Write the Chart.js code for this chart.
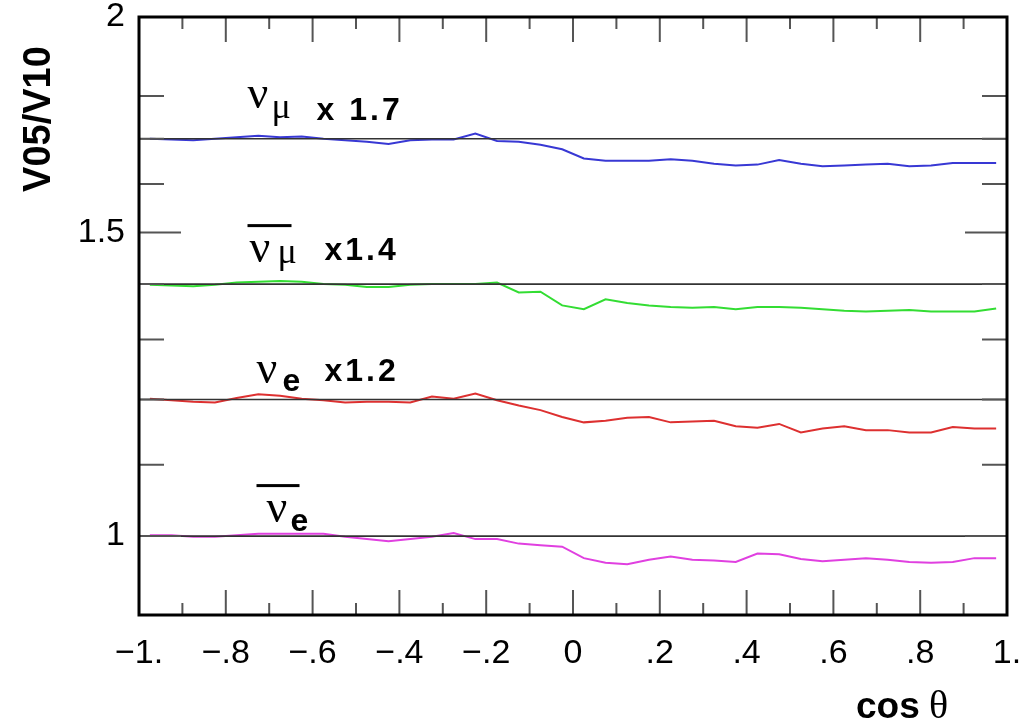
<!DOCTYPE html>
<html lang="en">
<head>
<meta charset="UTF-8">
<title>V05/V10 vs cos theta</title>
<script src="https://cdn.jsdelivr.net/npm/chart.js"></script>
<style>
    body { margin: 0; background: #fff; }
    #wrap { width: 1030px; height: 723px; }
</style>
</head>
<body>
<div id="wrap"><canvas id="ratioChart" width="1030" height="723"></canvas></div>
<script>
    // bin centres in cos(theta)
    const cosTheta = [-0.975, -0.925, -0.875, -0.825, -0.775, -0.725, -0.675, -0.625, -0.575, -0.525,
        -0.475, -0.425, -0.375, -0.325, -0.275, -0.225, -0.175, -0.125, -0.075, -0.025,
        0.025, 0.075, 0.125, 0.175, 0.225, 0.275, 0.325, 0.375, 0.425, 0.475,
        0.525, 0.575, 0.625, 0.675, 0.725, 0.775, 0.825, 0.875, 0.925, 0.975];

    // V05/V10 flux ratios (before the display offsets)
    const numuRatio = [1.000, 0.999, 0.998, 1.000, 1.002, 1.004, 1.002, 1.003, 1.000, 0.998,
        0.996, 0.993, 0.998, 0.999, 0.999, 1.007, 0.997, 0.996, 0.992, 0.986,
        0.974, 0.971, 0.971, 0.971, 0.973, 0.971, 0.967, 0.965, 0.966, 0.972,
        0.967, 0.964, 0.965, 0.966, 0.967, 0.964, 0.965, 0.968, 0.968, 0.968];
    const numubarRatio = [0.999, 0.998, 0.997, 0.999, 1.002, 1.003, 1.004, 1.003, 1.000, 0.999,
        0.996, 0.996, 0.999, 1.000, 1.000, 1.000, 1.002, 0.989, 0.990, 0.972,
        0.967, 0.980, 0.975, 0.972, 0.970, 0.969, 0.970, 0.967, 0.970, 0.970,
        0.969, 0.967, 0.965, 0.964, 0.965, 0.966, 0.964, 0.964, 0.964, 0.968];
    const nueRatio = [1.001, 0.999, 0.997, 0.996, 1.002, 1.007, 1.005, 1.001, 0.999, 0.996,
        0.997, 0.997, 0.996, 1.004, 1.001, 1.008, 0.999, 0.992, 0.986, 0.977,
        0.970, 0.972, 0.976, 0.977, 0.970, 0.971, 0.972, 0.965, 0.963, 0.968,
        0.957, 0.962, 0.965, 0.960, 0.960, 0.957, 0.957, 0.964, 0.962, 0.962];
    const nuebarRatio = [1.001, 1.001, 0.999, 0.999, 1.001, 1.003, 1.003, 1.003, 1.003, 0.999,
        0.996, 0.993, 0.996, 0.999, 1.004, 0.996, 0.996, 0.990, 0.988, 0.986,
        0.971, 0.965, 0.963, 0.969, 0.973, 0.969, 0.968, 0.966, 0.977, 0.976,
        0.970, 0.967, 0.969, 0.971, 0.969, 0.966, 0.965, 0.966, 0.971, 0.971];

    // each curve is multiplied by this factor for display
    const scaleFactors = [1.7, 1.4, 1.2, 1.0];

    const xTickValues = [-1, -0.8, -0.6, -0.4, -0.2, 0, 0.2, 0.4, 0.6, 0.8, 1];
    const xTickLabels = ['\u22121.', '\u2212.8', '\u2212.6', '\u2212.4', '\u2212.2', '0', '.2', '.4', '.6', '.8', '1.'];
    const yMajorTicks = [1, 1.5, 2];
    const yMinorTicks = [1.1, 1.2, 1.3, 1.4, 1.6, 1.7, 1.8];

    const ratios = [numuRatio, numubarRatio, nueRatio, nuebarRatio];
    const colors = ['#3838d4', '#33dd33', '#dd3030', '#e040e0'];

    function points(r, f) {
        return cosTheta.map((c, i) => ({ x: c, y: r[i] * f }));
    }

    const datasets = [];
    scaleFactors.forEach((f, k) => {
        datasets.push({
            data: [{ x: -1, y: f }, { x: 1, y: f }],
            borderColor: '#333', borderWidth: 1.6, pointRadius: 0, order: 0
        });
        datasets.push({
            data: points(ratios[k], f),
            borderColor: colors[k], borderWidth: 2, pointRadius: 0, order: 1
        });
    });

    function txt(ctx, s, x, y, font, spacing) {
        ctx.font = font;
        ctx.letterSpacing = spacing || '0px';
        ctx.fillText(s, x, y);
    }

    const decor = {
        id: 'decor',
        afterDraw(chart) {
            const { ctx, chartArea: a, scales: { x, y } } = chart;
            ctx.save();

            // inward tick marks on all four sides
            ctx.strokeStyle = '#555';
            ctx.lineWidth = 2;
            ctx.beginPath();
            xTickValues.forEach((v, i) => {
                const px = x.getPixelForValue(v);
                ctx.moveTo(px, a.bottom); ctx.lineTo(px, a.bottom - 25);
                ctx.moveTo(px, a.top); ctx.lineTo(px, a.top + 25);
                if (i < xTickValues.length - 1) {
                    const mx = x.getPixelForValue(v + 0.1);
                    ctx.moveTo(mx, a.bottom); ctx.lineTo(mx, a.bottom - 12);
                    ctx.moveTo(mx, a.top); ctx.lineTo(mx, a.top + 12);
                }
            });
            yMajorTicks.forEach(v => {
                const py = y.getPixelForValue(v);
                ctx.moveTo(a.left, py); ctx.lineTo(a.left + 42, py);
                ctx.moveTo(a.right, py); ctx.lineTo(a.right - 42, py);
            });
            yMinorTicks.forEach(v => {
                const py = y.getPixelForValue(v);
                ctx.moveTo(a.left, py); ctx.lineTo(a.left + 25, py);
                ctx.moveTo(a.right, py); ctx.lineTo(a.right - 25, py);
            });
            ctx.stroke();

            // frame
            ctx.strokeStyle = '#000';
            ctx.lineWidth = 3;
            ctx.strokeRect(a.left, a.top, a.right - a.left, a.bottom - a.top);

            // axis titles
            ctx.fillStyle = '#000';
            ctx.textAlign = 'left';
            ctx.textBaseline = 'alphabetic';
            txt(ctx, 'cos', 856, 718, 'bold 37px "Liberation Sans"');
            txt(ctx, '\u03b8', 929, 718, '40px "Liberation Serif"');
            ctx.save();
            ctx.translate(50, 119);
            ctx.rotate(-Math.PI / 2);
            ctx.textAlign = 'center';
            txt(ctx, 'V05/V10', 0, 0, 'bold 38px "Liberation Sans"');
            ctx.restore();

            // curve labels, placed relative to each reference line
            const x0 = x.getPixelForValue(-0.75);
            const nu = '46px "Liberation Serif"';
            const sub = '36px "Liberation Serif"';
            const bold = 'bold 32px "Liberation Sans"';
            let r = y.getPixelForValue(scaleFactors[0]);
            txt(ctx, '\u03bd', x0, r - 31, nu);
            txt(ctx, '\u03bc', x0 + 24, r - 21, sub);
            txt(ctx, 'x 1.7', x0 + 69, r - 19, bold, '3px');

            r = y.getPixelForValue(scaleFactors[1]);
            ctx.fillRect(x0, r - 60, 44, 3);
            txt(ctx, '\u03bd', x0 + 2, r - 22, nu);
            txt(ctx, '\u03bc', x0 + 30, r - 21, sub);
            txt(ctx, 'x1.4', x0 + 77, r - 24, bold, '3px');

            r = y.getPixelForValue(scaleFactors[2]);
            txt(ctx, '\u03bd', x0 + 9, r - 17, nu);
            txt(ctx, 'e', x0 + 35, r - 9, bold);
            txt(ctx, 'x1.2', x0 + 77, r - 19, bold, '3px');

            r = y.getPixelForValue(scaleFactors[3]);
            ctx.fillRect(x0 + 9, r - 52, 43, 3);
            txt(ctx, '\u03bd', x0 + 19, r - 14, nu);
            txt(ctx, 'e', x0 + 43, r - 5, bold);

            ctx.restore();
        }
    };

    const tickFont = { family: '"Liberation Sans", Arial, sans-serif', size: 34 };

    new Chart(document.getElementById('ratioChart'), {
        type: 'line',
        data: { datasets: datasets },
        options: {
            responsive: false,
            animation: false,
            layout: { padding: { top: 17, right: 23, left: 0, bottom: 0 } },
            plugins: { legend: { display: false }, tooltip: { enabled: false } },
            elements: { line: { tension: 0 } },
            scales: {
                x: {
                    type: 'linear', min: -1, max: 1,
                    afterFit: s => { s.height = 108; s.paddingLeft = 0; s.paddingRight = 0; },
                    afterBuildTicks: s => { s.ticks = xTickValues.map(v => ({ value: v })); },
                    grid: { display: false, drawTicks: false },
                    border: { display: false },
                    ticks: {
                        autoSkip: false, maxRotation: 0, padding: 18, color: '#000', font: tickFont,
                        callback: (v, i) => xTickLabels[i]
                    }
                },
                y: {
                    type: 'logarithmic', min: 0.9, max: 2,
                    afterFit: s => { s.width = 139; s.paddingTop = 0; s.paddingBottom = 0; },
                    afterBuildTicks: s => { s.ticks = yMajorTicks.map(v => ({ value: v })); },
                    grid: { display: false, drawTicks: false },
                    border: { display: false },
                    ticks: {
                        autoSkip: false, padding: 14, color: '#000', font: tickFont,
                        callback: v => String(v)
                    }
                }
            }
        },
        plugins: [decor]
    });
</script>
</body>
</html>
